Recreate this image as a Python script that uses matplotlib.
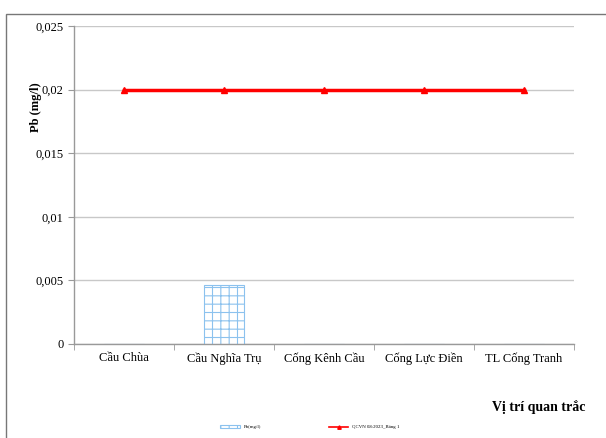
import matplotlib
matplotlib.use("Agg")
import matplotlib.pyplot as plt
from matplotlib.patches import Rectangle
import numpy as np

categories = ["Cầu Chùa", "Cầu Nghĩa Trụ", "Cống Kênh Cầu", "Cống Lực Điền", "TL Cống Tranh"]
pb_values = [0.0, 0.0046, 0.0, 0.0, 0.0]
qcvn_values = [0.02, 0.02, 0.02, 0.02, 0.02]
yticks = [0, 0.005, 0.01, 0.015, 0.02, 0.025]
ytick_labels = ["0", "0,005", "0,01", "0,015", "0,02", "0,025"]

plt.rcParams['font.family'] = ['Liberation Serif', 'DejaVu Serif']
plt.rcParams['hatch.color'] = '#8cc2ee'
plt.rcParams['hatch.linewidth'] = 0.8

fig = plt.figure(figsize=(6.06, 4.38), dpi=100)
W, H = 606, 438
ax = fig.add_axes([74 / W, 1 - 344 / H, (574 - 74) / W, (344 - 26) / H])

x = np.arange(len(categories))
bars = ax.bar(x, pb_values, width=0.4, color='white', edgecolor='#8cc2ee', hatch='++',
              linewidth=0.8, label='Pb(mg/l)', zorder=2)
line, = ax.plot(x, qcvn_values, color='#ff0000', linewidth=2.5, marker='^', markersize=5,
                label='QCVN 08:2023_Bảng 1', zorder=3)

ax.set_xlim(-0.5, len(categories) - 0.5)
ax.set_ylim(0, 0.025)
ax.set_yticks(yticks)
ax.set_yticklabels(ytick_labels, fontsize=9)
ax.set_xticks(x)
ax.set_xticklabels(categories, fontsize=9)
ax.set_xticks(np.arange(-0.5, len(categories)), minor=True)
ax.tick_params(axis='x', which='major', length=0, pad=6)
ax.tick_params(axis='x', which='minor', length=4, color='#999999', direction='out')
ax.tick_params(axis='y', length=4, color='#999999', direction='out')
ax.yaxis.grid(True, color='#c8c8c8', linewidth=1)
ax.set_axisbelow(True)
for s in ['top', 'right']:
    ax.spines[s].set_visible(False)
for s in ['left', 'bottom']:
    ax.spines[s].set_color('#999999')
    ax.spines[s].set_linewidth(1)

fig.text(36 / W, 1 - 107 / H, "Pb (mg/l)", rotation=90, fontsize=9, fontweight='bold',
         ha='center', va='center')
fig.text(585 / W, 1 - 407 / H, "Vị trí quan trắc", fontsize=10, fontweight='bold',
         ha='right', va='center')

leg = fig.legend([bars, line], ['Pb(mg/l)', 'QCVN 08:2023_Bảng 1'], loc='center',
                 bbox_to_anchor=(310 / W, 1 - 427 / H), ncol=2, frameon=False,
                 fontsize=3.5, columnspacing=14, handlelength=4, handleheight=0.6)
for h in leg.legend_handles:
    if hasattr(h, 'set_linewidth') and h.__class__.__name__ == 'Line2D':
        h.set_linewidth(1.2)
        h.set_markersize(2.5)

fig.patches.append(Rectangle((6 / W, -0.1), 1.2, 1 - 14 / H + 0.1, transform=fig.transFigure,
                             fill=False, edgecolor='#777777', linewidth=1))

fig.savefig("out.png", dpi=100)
